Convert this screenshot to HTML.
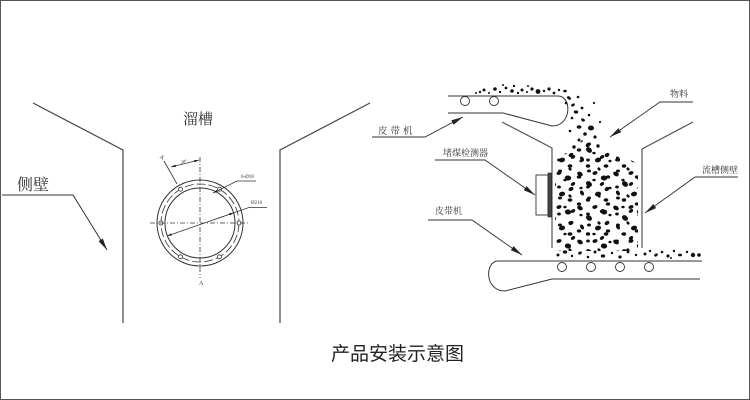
<!DOCTYPE html>
<html><head><meta charset="utf-8"><style>
html,body{margin:0;padding:0;background:#fff;}
svg{display:block;}
.t{font-family:"Liberation Serif","Noto Serif CJK SC",serif;fill:#333;}
</style></head><body>
<svg width="750" height="400" viewBox="0 0 750 400" xmlns="http://www.w3.org/2000/svg">
<defs>
<marker id="ar" viewBox="0 0 12 5" refX="12" refY="2.5" markerWidth="12" markerHeight="5" markerUnits="userSpaceOnUse" orient="auto">
<path d="M0,0 L12,2.5 L0,5 z" fill="#222"/>
</marker>
<marker id="sa" viewBox="0 0 6 3" refX="6" refY="1.5" markerWidth="5" markerHeight="2.4" markerUnits="userSpaceOnUse" orient="auto">
<path d="M0,0 L6,1.5 L0,3 z" fill="#222"/>
</marker>
<marker id="sb" viewBox="0 0 6 3" refX="0" refY="1.5" markerWidth="5" markerHeight="2.4" markerUnits="userSpaceOnUse" orient="auto">
<path d="M6,0 L0,1.5 L6,3 z" fill="#222"/>
</marker>
<pattern id="coal" width="36" height="34" patternUnits="userSpaceOnUse">
<g fill="#111">
<ellipse cx="4" cy="4" rx="3" ry="2.1" transform="rotate(30 4 4)"/>
<ellipse cx="19" cy="3" rx="2.6" ry="1.8" transform="rotate(-20 19 3)"/>
<ellipse cx="28" cy="8" rx="3.2" ry="2.5" transform="rotate(10 28 8)"/>
<ellipse cx="13" cy="14" rx="3.3" ry="2.5" transform="rotate(40 13 14)"/>
<ellipse cx="31" cy="19" rx="2.6" ry="1.9" transform="rotate(-30 31 19)"/>
<ellipse cx="6" cy="23" rx="2.7" ry="1.8" transform="rotate(60 6 23)"/>
<ellipse cx="22" cy="24" rx="3.1" ry="2.3" transform="rotate(-15 22 24)"/>
<ellipse cx="12" cy="30" rx="2.2" ry="1.7"/>
<ellipse cx="30" cy="30" rx="2.4" ry="1.8"/>
</g>
</pattern>
<pattern id="coal2" x="5" y="3" width="29" height="27" patternUnits="userSpaceOnUse">
<g fill="#111">
<ellipse cx="4" cy="6" rx="2" ry="1.5"/>
<ellipse cx="14" cy="4" rx="1.8" ry="1.4" transform="rotate(50 14 4)"/>
<ellipse cx="23" cy="12" rx="2.2" ry="1.6"/>
<ellipse cx="9" cy="15" rx="1.7" ry="1.3"/>
<ellipse cx="17" cy="19" rx="2.4" ry="1.7" transform="rotate(-35 17 19)"/>
<ellipse cx="3" cy="22" rx="1.9" ry="1.5"/>
<ellipse cx="25" cy="23" rx="1.6" ry="1.3"/>
</g>
</pattern>
<clipPath id="chute">
<polygon points="555,158 573,150 582,140 596,142 606,152 625,157 638,164 638,251 555,251"/>
</clipPath>
</defs>

<!-- frame -->
<rect x="0" y="0" width="750" height="400" fill="none" stroke="#555" stroke-width="2"/>

<!-- ===== LEFT DIAGRAM ===== -->
<g stroke="#444" stroke-width="1.2" fill="none">
<polyline points="33,103 123,150 123,323"/>
<polyline points="370,103 280,150 280,323"/>
</g>
<text class="t" x="198" y="124" font-size="15" text-anchor="middle">溜槽</text>
<text class="t" x="17" y="190" font-size="16">侧壁</text>
<polyline points="2,195 73,195 107,250" fill="none" stroke="#333" stroke-width="1" marker-end="url(#ar)"/>

<!-- flange -->
<g fill="none" stroke="#333" stroke-width="1">
<circle cx="200" cy="223" r="43"/>
<circle cx="200" cy="223" r="35"/>
<circle cx="200" cy="223" r="39" stroke-dasharray="9 3" stroke-width="0.8"/>
</g>
<g fill="#fff" stroke="#333" stroke-width="0.8">
<circle cx="239" cy="223" r="2"/>
<circle cx="219.5" cy="189.2" r="2"/>
<circle cx="180.5" cy="189.2" r="2"/>
<circle cx="161" cy="223" r="2"/>
<circle cx="180.5" cy="256.8" r="2"/>
<circle cx="219.5" cy="256.8" r="2"/>
</g>
<g stroke="#333" stroke-width="0.8" stroke-dasharray="5 2 1 2" fill="none">
<line x1="200" y1="157" x2="200" y2="278"/>
<line x1="150" y1="223" x2="250" y2="223"/>
</g>
<text class="t" x="199" y="285" font-size="6">A</text>
<text class="t" x="160" y="159" font-size="6" transform="rotate(30 162 157)">A</text>
<line x1="177" y1="184" x2="164" y2="161" stroke="#333" stroke-width="0.8"/>
<line x1="171" y1="167" x2="199" y2="160" stroke="#333" stroke-width="0.7" marker-start="url(#sb)" marker-end="url(#sa)"/>
<text class="t" x="181" y="163" font-size="4.5" transform="rotate(-14 184 163)">30°</text>
<polyline points="256,181 237,181 213,193" fill="none" stroke="#333" stroke-width="0.7" marker-end="url(#sa)"/>
<text class="t" x="241" y="178" font-size="5">6-Ø18</text>
<polyline points="267,207.5 249,207.5 167,236" fill="none" stroke="#333" stroke-width="0.7" marker-end="url(#sa)"/>
<line x1="214" y1="219.7" x2="234" y2="212.7" stroke="#333" stroke-width="0.7" marker-end="url(#sa)"/>
<text class="t" x="251" y="204" font-size="5">Ø210</text>

<!-- ===== RIGHT DIAGRAM ===== -->
<!-- upper belt -->
<path d="M448,96 L558,96 C572,96 572,126 552,126 L503,113 L448,113" fill="none" stroke="#333" stroke-width="1"/>
<circle cx="465" cy="101" r="4.5" fill="#fff" stroke="#333" stroke-width="0.9"/>
<circle cx="494" cy="101" r="4.5" fill="#fff" stroke="#333" stroke-width="0.9"/>

<!-- chute walls -->
<g stroke="#555" stroke-width="1.2" fill="none">
<polyline points="502,122 552,148 552,248"/>
<polyline points="693,122 642,149 642,248"/>
</g>

<!-- detector -->
<rect x="536" y="175" width="12" height="40" fill="#fff" stroke="#333" stroke-width="0.9"/>
<rect x="548" y="173" width="3.5" height="44" fill="#444" stroke="#222" stroke-width="0.6"/>

<!-- lower belt -->
<path d="M702,261 L498,261 C485,261 484,291 505,291 L552,279 L700,279" fill="none" stroke="#333" stroke-width="1"/>
<g fill="#fff" stroke="#333" stroke-width="0.9">
<circle cx="562" cy="267" r="4.5"/>
<circle cx="591" cy="267" r="4.5"/>
<circle cx="620" cy="267" r="4.5"/>
<circle cx="649" cy="267" r="4.5"/>
</g>

<!-- coal fill -->
<g clip-path="url(#chute)">
<rect x="555" y="138" width="84" height="114" fill="url(#coal)"/>
<rect x="555" y="138" width="84" height="114" fill="url(#coal2)"/>
</g>
<g fill="#111">
<!-- on upper belt -->
<circle cx="480" cy="92" r="1.2"/><circle cx="484" cy="90" r="1.5"/><circle cx="489" cy="93" r="1"/>
<circle cx="495" cy="89" r="1.8"/><circle cx="500" cy="92" r="1.2"/><circle cx="506" cy="88" r="1.4"/>
<circle cx="512" cy="91" r="1.8"/><circle cx="518" cy="93" r="1.2"/><circle cx="522" cy="90" r="1.5"/>
<circle cx="527" cy="92" r="1"/><circle cx="532" cy="89" r="1.6"/><circle cx="538" cy="91.5" r="2.4"/>
<circle cx="544" cy="91" r="1.2"/><circle cx="549" cy="89" r="1.6"/><circle cx="554" cy="93" r="1.4"/>
<circle cx="559" cy="90" r="1.2"/><circle cx="503" cy="85" r="1"/><circle cx="514" cy="86" r="1.2"/>
<circle cx="528" cy="86" r="1"/><circle cx="476" cy="93" r="1"/>
<!-- falling stream -->
<ellipse cx="565" cy="91" rx="1.8" ry="1.3"/><ellipse cx="569" cy="98" rx="2.2" ry="1.5" transform="rotate(40 569 98)"/>
<circle cx="566" cy="103" r="1.3"/><ellipse cx="573" cy="105" rx="2" ry="1.3" transform="rotate(-30 573 105)"/>
<circle cx="578" cy="97" r="1.3"/><ellipse cx="576" cy="112" rx="2.2" ry="1.6"/>
<circle cx="582" cy="108" r="1.4"/><circle cx="572" cy="118" r="1.3"/>
<ellipse cx="583" cy="120" rx="2" ry="1.4" transform="rotate(30 583 120)"/><circle cx="589" cy="115" r="1.3"/>
<ellipse cx="579" cy="127" rx="2.4" ry="1.7"/><ellipse cx="591" cy="128" rx="3" ry="2.5"/>
<circle cx="585" cy="134" r="1.8"/><circle cx="595" cy="137" r="1.6"/>
<circle cx="579" cy="140" r="1.5"/><ellipse cx="588" cy="145" rx="2.6" ry="1.9" transform="rotate(-40 588 145)"/>
<circle cx="598" cy="146" r="1.7"/><circle cx="574" cy="147" r="1.7"/>
<circle cx="600" cy="122" r="1.1"/><circle cx="570" cy="131" r="1.3"/><circle cx="594" cy="103" r="1.1"/>
<!-- pile on lower belt -->
<circle cx="558" cy="255" r="1.5"/><ellipse cx="565" cy="252" rx="2.2" ry="1.6"/><circle cx="572" cy="256" r="1.2"/>
<ellipse cx="580" cy="253" rx="2" ry="1.4" transform="rotate(-30 580 253)"/><circle cx="588" cy="257" r="1.3"/>
<circle cx="595" cy="252" r="1.5"/><ellipse cx="603" cy="256" rx="2.2" ry="1.6"/><circle cx="612" cy="253" r="1.2"/>
<circle cx="620" cy="257" r="1.6"/><circle cx="628" cy="252" r="1.4"/><circle cx="636" cy="255" r="1.2"/>
<circle cx="645" cy="254" r="1.5"/><circle cx="650" cy="251" r="1.2"/><ellipse cx="656" cy="255" rx="2" ry="1.4" transform="rotate(-30 656 255)"/>
<circle cx="662" cy="252" r="1.3"/><circle cx="668" cy="256" r="1.6"/><circle cx="674" cy="251" r="1.2"/>
<ellipse cx="680" cy="255" rx="2" ry="1.4"/><circle cx="687" cy="252" r="1.2"/><circle cx="693" cy="255" r="2.2"/>
<circle cx="699" cy="255" r="1.8"/><circle cx="671" cy="258" r="1"/>
</g>

<!-- labels & leaders -->
<g class="t" font-size="9.5">
<text x="378" y="134" letter-spacing="3">皮带机</text>
<text x="443" y="156" font-size="9">堵煤检测器</text>
<text x="435" y="214" font-size="9" letter-spacing="0">皮带机</text>
<text x="670" y="97" font-size="9">物料</text>
<text x="702" y="173" font-size="9">流槽侧壁</text>
</g>
<g fill="none" stroke="#333" stroke-width="0.9">
<polyline points="372,137 425,137 463,117" marker-end="url(#ar)"/>
<polyline points="435,160 485,160 535,195" marker-end="url(#ar)"/>
<polyline points="428,220 472,220 522,255" marker-end="url(#ar)"/>
<polyline points="693,102 660,102 610,137" marker-end="url(#ar)"/>
<polyline points="738,177 695,177 645,213" marker-end="url(#ar)"/>
</g>

<!-- title -->
<text x="331" y="360" font-size="19" font-family="'Liberation Sans','Noto Sans CJK SC',sans-serif" fill="#222">产品安装示意图</text>
</svg>
</body></html>
